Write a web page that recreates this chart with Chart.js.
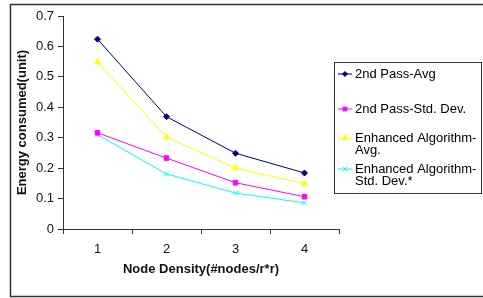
<!DOCTYPE html>
<html>
<head>
<meta charset="utf-8">
<script src="https://cdn.jsdelivr.net/npm/chart.js@4.4.0/dist/chart.umd.min.js"></script>
<style>
  html, body { margin: 0; padding: 0; background: #fff; }
  #wrap { width: 483px; height: 298px; position: relative; }
</style>
</head>
<body>
<div id="wrap"><canvas id="energyChart" width="483" height="298"></canvas></div>
<script>
const categories = ['1', '2', '3', '4'];
const seriesNames = ['2nd Pass-Avg', '2nd Pass-Std. Dev.', 'Enhanced Algorithm-Avg.', 'Enhanced Algorithm-Std. Dev.*'];
const legendLines = [['2nd Pass-Avg'], ['2nd Pass-Std. Dev.'], ['Enhanced Algorithm-', 'Avg.'], ['Enhanced Algorithm-', 'Std. Dev.*']];
const passAvg = [0.624, 0.369, 0.249, 0.184];
const passStd = [0.316, 0.233, 0.152, 0.106];
const enhancedAvg = [0.548, 0.302, 0.200, 0.149];
const enhancedStd = [0.310, 0.181, 0.118, 0.086];
const yTicks = [0, 0.1, 0.2, 0.3, 0.4, 0.5, 0.6, 0.7];

const colors = ['#000080', '#ff00ff', '#ffff00', '#00ffff'];
const markers = ['rectRot', 'rect', 'triangle', 'crossRot'];
const markerSize = [3, 3.2, 3.5, 3.2];
const fontFamily = '"Liberation Sans", Arial, sans-serif';
const axisColor = '#333';

function makeSet(i, data) {
  return {
    label: seriesNames[i],
    data: data,
    borderColor: colors[i],
    backgroundColor: colors[i],
    borderWidth: 1,
    pointStyle: markers[i],
    pointRadius: markerSize[i],
    pointHoverRadius: markerSize[i],
    pointBorderWidth: 1,
    tension: 0
  };
}

// outer frame and boxed legend, drawn on the canvas
const framePlugin = {
  id: 'frame',
  afterDraw(chart) {
    const ctx = chart.ctx;
    ctx.save();
    ctx.strokeStyle = '#333';
    ctx.lineWidth = 1.5;
    ctx.beginPath();
    ctx.moveTo(490, 4.5);
    ctx.lineTo(10.5, 4.5);
    ctx.lineTo(10.5, 296.5);
    ctx.lineTo(490, 296.5);
    ctx.stroke();

    ctx.lineWidth = 1;
    ctx.strokeStyle = '#333';
    ctx.strokeRect(334.5, 62.5, 147, 131);

    const rows = [74, 109, 138, 169];
    ctx.font = '13px ' + fontFamily;
    ctx.textBaseline = 'middle';
    ctx.textAlign = 'left';
    chart.data.datasets.forEach((ds, i) => {
      const y = rows[i];
      ctx.strokeStyle = ds.borderColor;
      ctx.fillStyle = ds.backgroundColor;
      ctx.lineWidth = 1;
      ctx.beginPath();
      ctx.moveTo(338, y);
      ctx.lineTo(352, y);
      ctx.stroke();
      Chart.helpers.drawPoint(ctx, { pointStyle: ds.pointStyle, radius: ds.pointRadius - 0.5, rotation: 0, borderWidth: 1 }, 345, y);
      ctx.fillStyle = '#000';
      legendLines[i].forEach((line, k) => {
        ctx.fillText(line, 355, y + k * 12);
      });
    });
    ctx.restore();
  }
};

new Chart(document.getElementById('energyChart'), {
  type: 'line',
  data: {
    labels: categories,
    datasets: [
      makeSet(0, passAvg),
      makeSet(1, passStd),
      makeSet(2, enhancedAvg),
      makeSet(3, enhancedStd)
    ]
  },
  options: {
    responsive: false,
    animation: false,
    layout: { padding: { left: 0, right: 144, top: 16, bottom: 0 } },
    plugins: {
      legend: { display: false },
      tooltip: { enabled: false }
    },
    scales: {
      x: {
        offset: true,
        afterFit: s => { s.height = 69; },
        grid: { offset: true, drawOnChartArea: false, drawTicks: true, tickLength: 5, color: axisColor },
        border: { color: axisColor, width: 1 },
        ticks: { color: '#111', padding: 8, font: { family: fontFamily, size: 13 } },
        title: {
          display: true,
          text: 'Node Density(#nodes/r*r)',
          color: '#111',
          padding: { top: 0, bottom: 21 },
          font: { family: fontFamily, size: 13, weight: 'bold' }
        }
      },
      y: {
        min: 0,
        max: 0.7,
        afterFit: s => { s.width = 63; },
        afterBuildTicks: s => { s.ticks = yTicks.map(v => ({ value: v })); },
        grid: { drawOnChartArea: false, drawTicks: true, tickLength: 5, color: axisColor },
        border: { color: axisColor, width: 1 },
        ticks: { color: '#111', padding: 4, font: { family: fontFamily, size: 13 } },
        title: {
          display: true,
          text: 'Energy consumed(unit)',
          color: '#111',
          padding: { top: 15, bottom: 0 },
          font: { family: fontFamily, size: 13, weight: 'bold' }
        }
      }
    }
  },
  plugins: [framePlugin]
});
</script>
</body>
</html>
